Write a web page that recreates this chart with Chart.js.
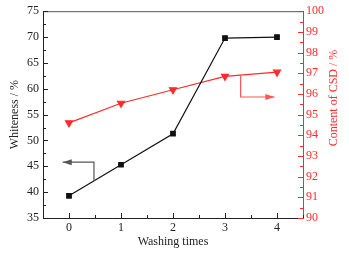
<!DOCTYPE html>
<html>
<head>
<meta charset="utf-8">
<script src="https://cdn.jsdelivr.net/npm/chart.js@4/dist/chart.umd.min.js"></script>
<style>
  html, body { margin: 0; padding: 0; background: #fff; }
  #wrap { width: 349px; height: 255px; }
</style>
</head>
<body>
<div id="wrap"><canvas id="c"></canvas></div>
<script>
// ── data ──────────────────────────────────────────────────────────────────
const washTimes = [0, 1, 2, 3, 4];
const whiteness = [39.3, 45.3, 51.3, 69.8, 70.0];
const csdContent = [94.6, 95.55, 96.2, 96.85, 97.05];

const xTicks = [0, 1, 2, 3, 4];
const leftTicks = [35, 40, 45, 50, 55, 60, 65, 70, 75];
const rightTicks = [90, 91, 92, 93, 94, 95, 96, 97, 98, 99, 100];

const RED = "#ff2a2a";
const FONT = "'Liberation Serif', 'DejaVu Serif', serif";

// ── inward ticks, frame, arrows, right title ─────────────────────────────
const decor = {
  id: "decor",
  afterDraw(chart) {
    const { ctx, chartArea: a, scales } = chart;
    const x = scales.x, yl = scales.y, yr = scales.y2;
    ctx.save();
    ctx.lineWidth = 1;

    // top frame
    ctx.strokeStyle = "#555";
    ctx.beginPath();
    ctx.moveTo(a.left, a.top + 0.5);
    ctx.lineTo(a.right, a.top + 0.5);
    ctx.stroke();

    // x ticks (major on integers, minor halfway)
    ctx.strokeStyle = "#222";
    ctx.beginPath();
    for (let v = -0.5; v <= 4.5; v += 0.5) {
      const px = Math.round(x.getPixelForValue(v)) + 0.5;
      const len = Number.isInteger(v) ? 5 : 3;
      ctx.moveTo(px, a.bottom);
      ctx.lineTo(px, a.bottom - len);
    }
    // left ticks
    for (let v = 35; v <= 75; v += 2.5) {
      const py = Math.round(yl.getPixelForValue(v)) + 0.5;
      const len = v % 5 === 0 ? 5 : 3;
      ctx.moveTo(a.left, py);
      ctx.lineTo(a.left + len, py);
    }
    ctx.stroke();

    // right ticks
    ctx.strokeStyle = RED;
    ctx.beginPath();
    for (let v = 90; v <= 100.01; v += 0.5) {
      const py = Math.round(yr.getPixelForValue(v)) + 0.5;
      const len = Math.abs(v - Math.round(v)) < 0.01 ? 5 : 3;
      ctx.moveTo(a.right, py);
      ctx.lineTo(a.right - len, py);
    }
    ctx.stroke();

    // arrow helper
    const arrow = (pts, color, dir) => {
      ctx.strokeStyle = color;
      ctx.fillStyle = color;
      ctx.lineWidth = 1.2;
      ctx.beginPath();
      pts.forEach((p, i) => (i ? ctx.lineTo(p[0], p[1]) : ctx.moveTo(p[0], p[1])));
      ctx.stroke();
      const [ex, ey] = pts[pts.length - 1];
      ctx.beginPath();
      ctx.moveTo(ex, ey);
      ctx.lineTo(ex - dir * 9, ey - 3);
      ctx.lineTo(ex - dir * 9, ey + 3);
      ctx.closePath();
      ctx.fill();
    };

    // black arrow: from whiteness line at x=0.48 up, then left
    const bx = x.getPixelForValue(0.48);
    const by0 = yl.getPixelForValue(whiteness[0] + (whiteness[1] - whiteness[0]) * 0.48);
    const by1 = yl.getPixelForValue(45.8);
    arrow([[bx, by0], [bx, by1], [x.getPixelForValue(-0.12), by1]], "#555", -1);

    // red arrow: from CSD line at x=3.3 down, then right
    const rx = x.getPixelForValue(3.3);
    const ry0 = yr.getPixelForValue(csdContent[3] + (csdContent[4] - csdContent[3]) * 0.3);
    const ry1 = yr.getPixelForValue(95.85);
    arrow([[rx, ry0], [rx, ry1], [x.getPixelForValue(3.95), ry1]], "#ff5555", 1);

    // right axis title, reading bottom to top
    ctx.fillStyle = RED;
    ctx.font = "12px " + FONT;
    ctx.textAlign = "center";
    ctx.textBaseline = "middle";
    ctx.translate(334, 98);
    ctx.rotate(-Math.PI / 2);
    ctx.fillText("Content of CSD / %", 0, 0);
    ctx.restore();
  },
};

new Chart(document.getElementById("c"), {
  type: "line",
  data: {
    datasets: [
      {
        label: "Whiteness",
        data: washTimes.map((t, i) => ({ x: t, y: whiteness[i] })),
        yAxisID: "y",
        borderColor: "#111",
        backgroundColor: "#111",
        borderWidth: 1.2,
        pointStyle: "rect",
        pointRadius: 3.2,
        tension: 0,
      },
      {
        label: "CSD",
        data: washTimes.map((t, i) => ({ x: t, y: csdContent[i] })),
        yAxisID: "y2",
        borderColor: RED,
        backgroundColor: RED,
        borderWidth: 1.2,
        pointStyle: "triangle",
        pointRotation: 180,
        pointRadius: 4,
        tension: 0,
      },
    ],
  },
  plugins: [decor],
  options: {
    responsive: true,
    maintainAspectRatio: false,
    animation: false,
    layout: { padding: { top: 11, right: 0, left: 0, bottom: 0 } },
    plugins: { legend: { display: false }, tooltip: { enabled: false } },
    scales: {
      x: {
        type: "linear",
        min: -0.5,
        max: 4.5,
        afterBuildTicks: (s) => { s.ticks = xTicks.map((v) => ({ value: v })); },
        afterFit: (s) => { s.height = 37; },
        grid: { display: false, drawTicks: false },
        border: { color: "#222" },
        ticks: { color: "#222", padding: 3, font: { family: FONT, size: 12 } },
        title: { display: true, text: "Washing times", color: "#222", padding: { top: 1, bottom: 6 }, font: { family: FONT, size: 12 } },
      },
      y: {
        position: "left",
        min: 35,
        max: 75,
        afterBuildTicks: (s) => { s.ticks = leftTicks.map((v) => ({ value: v })); },
        afterFit: (s) => { s.width = 43; },
        grid: { display: false, drawTicks: false },
        border: { color: "#222" },
        ticks: { color: "#222", padding: 4, font: { family: FONT, size: 12 } },
        title: { display: true, text: "Whiteness / %", color: "#222", padding: { top: 8, bottom: 0 }, font: { family: FONT, size: 12 } },
      },
      y2: {
        position: "right",
        min: 90,
        max: 100,
        afterBuildTicks: (s) => { s.ticks = rightTicks.map((v) => ({ value: v })); },
        afterFit: (s) => { s.width = 46; },
        grid: { display: false, drawTicks: false },
        border: { color: RED },
        ticks: { color: RED, padding: 3, font: { family: FONT, size: 12 } },
      },
    },
  },
});
</script>
</body>
</html>
